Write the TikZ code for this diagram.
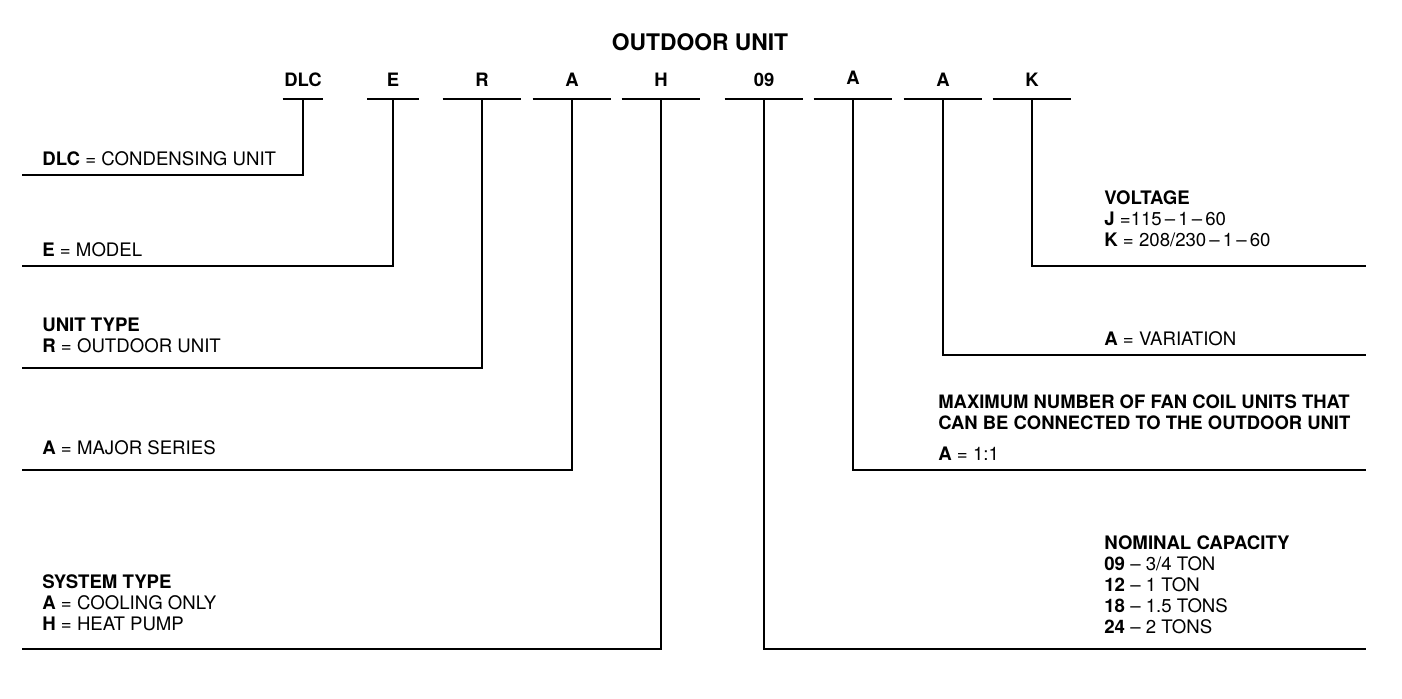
\documentclass[tikz,border=0pt]{standalone}
\usepackage{fontspec}
\setmainfont{TeX Gyre Heros}
\begin{document}
\begin{tikzpicture}[x=0.02cm, y=-0.02cm,
  txtfont/.style={font=\fontsize{10.6}{11.9}\selectfont},
  code/.style={font=\bfseries\fontsize{10.5}{12}\selectfont, anchor=south,
    inner xsep=0pt, inner ysep=6.8pt, minimum width=1.56cm},
  lbl/.style={txtfont, anchor=base west, inner sep=0pt, align=left},
  rule/.style={line width=1.5pt}]
  \useasboundingbox (0,0) rectangle (1402,698);

  % Title
  \node[font=\bfseries\fontsize{13}{15}\selectfont, anchor=base] (ttl) at (700,50) {OUTDOOR UNIT};

  % Model number digits
  \node[code, minimum width=0.8cm] (dlc) at (303,99) {DLC};
  \node[code, minimum width=1.02cm] (e) at (393,99) {E};
  \node[code] (r) at (482,99) {R};
  \node[code] (ser) at (572,99) {A};
  \node[code] (h) at (661,99) {H};
  \node[code] (cap) at (764,99) {09};
  \node[code, inner ysep=7.9pt] (fcu) at (853,99) {A};
  \node[code] (var) at (943,99) {A};
  \node[code] (k) at (1032,99) {K};

  % Bars under the digits
  \draw[rule] (dlc.south west) -- (dlc.south east);
  \draw[rule] (e.south west) -- (e.south east);
  \draw[rule] (r.south west) -- (r.south east);
  \draw[rule] (ser.south west) -- (ser.south east);
  \draw[rule] (h.south west) -- (h.south east);
  \draw[rule] (cap.south west) -- (cap.south east);
  \draw[rule] (fcu.south west) -- (fcu.south east);
  \draw[rule] (var.south west) -- (var.south east);
  \draw[rule] (k.south west) -- (k.south east);

  % Leader ends
  \coordinate (dlcL) at (22,175);
  \coordinate (eL) at (22,266);
  \coordinate (rL) at (22,368);
  \coordinate (serL) at (22,470);
  \coordinate (hL) at (22,649);
  \coordinate (capR) at (1366,649);
  \coordinate (fcuR) at (1366,470);
  \coordinate (varR) at (1366,355);
  \coordinate (kR) at (1366,266);

  % Leaders
  \draw[rule] (dlc.south) |- (dlcL);
  \draw[rule] (e.south) |- (eL);
  \draw[rule] (r.south) |- (rL);
  \draw[rule] (ser.south) |- (serL);
  \draw[rule] (h.south) |- (hL);
  \draw[rule] (cap.south) |- (capR);
  \draw[rule] (fcu.south) |- (fcuR);
  \draw[rule] (var.south) |- (varR);
  \draw[rule] (k.south) |- (kR);

  % Left labels (base = last line)
  \node[lbl] (dlcTxt) at (42,165) {\textbf{DLC} = CONDENSING UNIT};
  \node[lbl] (eTxt) at (42,256) {\textbf{E} = MODEL};
  \node[lbl] (rTxt) at (42,352) {\textbf{UNIT TYPE}\\\textbf{R} = OUTDOOR UNIT};
  \node[lbl] (serTxt) at (42,454) {\textbf{A} = MAJOR SERIES};
  \node[lbl] (hTxt) at (42,630) {\textbf{SYSTEM TYPE}\\\textbf{A} = COOLING ONLY\\\textbf{H} = HEAT PUMP};

  % Right labels
  \node[lbl] (kTxt) at (1104,246) {\textbf{VOLTAGE}\\\textbf{J} =115\,\textendash\,1\,\textendash\,60\\\textbf{K} = 208/230\,\textendash\,1\,\textendash\,60};
  \node[lbl] (varTxt) at (1104,345) {\textbf{A} = VARIATION};
  \node[lbl, font=\bfseries\fontsize{10.5}{11.9}\selectfont] (fcuTxt) at (938,429) {MAXIMUM NUMBER OF FAN COIL UNITS THAT\\CAN BE CONNECTED TO THE OUTDOOR UNIT};
  \node[lbl] (ratioTxt) at (938,460) {\textbf{A} = 1:1};
  \node[lbl] (capTxt) at (1104,633) {\textbf{NOMINAL CAPACITY}\\\textbf{09} \textendash{} 3/4 TON\\\textbf{12} \textendash{} 1 TON\\\textbf{18} \textendash{} 1.5 TONS\\\textbf{24} \textendash{} 2 TONS};

\end{tikzpicture}
\end{document}
